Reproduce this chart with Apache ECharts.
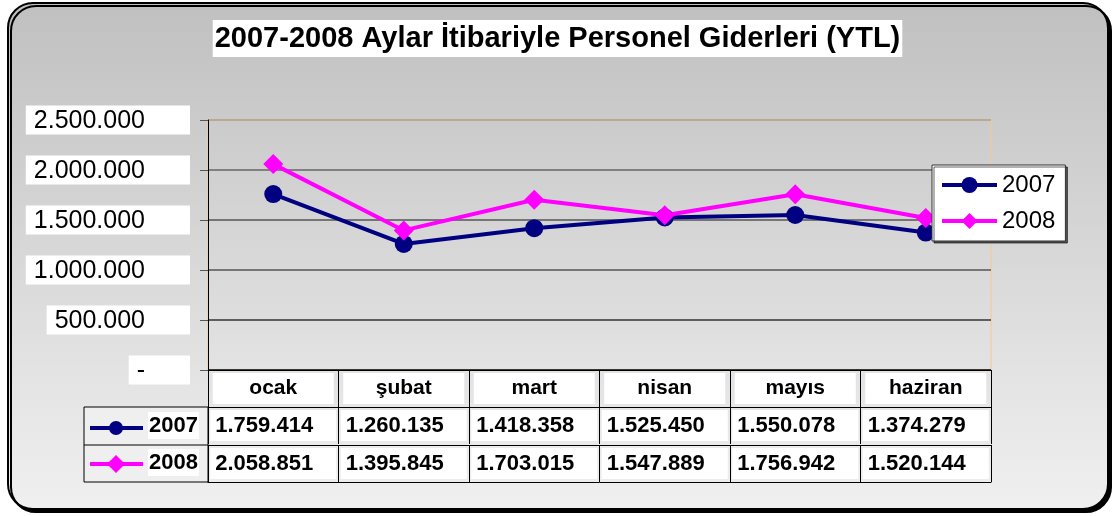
<!DOCTYPE html>
<html>
<head>
<meta charset="utf-8">
<script src="https://cdn.jsdelivr.net/npm/echarts@6/dist/echarts.min.js"></script>
<style>
html, body { margin: 0; padding: 0; background: #fff; }
#chart { width: 1115px; height: 516px; }
</style>
</head>
<body>
<div id="chart"></div>
<script>
var months = ['ocak', 'şubat', 'mart', 'nisan', 'mayıs', 'haziran'];
var data2007 = [1759414, 1260135, 1418358, 1525450, 1550078, 1374279];
var data2008 = [2058851, 1395845, 1703015, 1547889, 1756942, 1520144];
var yTicks = [0, 500000, 1000000, 1500000, 2000000, 2500000];

var FONT = 'Arial, "Liberation Sans", sans-serif';

function fmt(v) {
	if (v === 0) return '-';
	return String(v).replace(/\B(?=(\d{3})+(?!\d))/g, '.');
}

// one table row = one extra category axis under the grid
function rowAxis(data, offset, align, size) {
	return {
		type: 'category',
		gridIndex: 0,
		position: 'bottom',
		offset: offset,
		data: data,
		axisLine: { show: true, lineStyle: { color: '#000', width: 1 } },
		axisTick: { show: true, interval: 0, length: 37, lineStyle: { color: '#000' } },
		axisLabel: {
			interval: 0,
			margin: 3,
			formatter: function (v) { return '{c|' + v + '}'; },
			rich: {
				c: {
					backgroundColor: '#fff', width: 121, height: 31, lineHeight: 31,
					align: align, padding: align === 'left' ? [0, 0, 0, 5] : 0,
					fontFamily: FONT, fontWeight: 'bold', fontSize: size, color: '#000'
				}
			}
		}
	};
}

var option = {
	animation: false,
	textStyle: { fontFamily: FONT },
	title: {
		text: '2007-2008 Aylar İtibariyle Personel Giderleri (YTL)',
		left: 'center',
		top: 20,
		backgroundColor: '#fff',
		padding: [4, 2, 3, 2],
		textStyle: { fontFamily: FONT, fontWeight: 'bold', fontSize: 29, lineHeight: 30, color: '#000' }
	},
	legend: {
		orient: 'vertical',
		left: 932,
		top: 165,
		padding: [8, 10, 8, 8],
		itemGap: 12,
		itemWidth: 55,
		itemHeight: 20,
		backgroundColor: '#fff',
		borderColor: '#333',
		borderWidth: 1,
		shadowColor: 'rgba(0,0,0,0.6)',
		shadowOffsetX: 2,
		shadowOffsetY: 2,
		lineStyle: { width: 4 },
		textStyle: { fontFamily: FONT, fontSize: 24, color: '#000' },
		data: ['2007', '2008']
	},
	grid: {
		left: 208, right: 124, top: 120, bottom: 146,
		show: true, borderColor: '#f5c898', borderWidth: 1,
		backgroundColor: 'transparent'
	},
	xAxis: [
		rowAxis(months, 0, 'center', 21),
		rowAxis(data2007.map(fmt), 37, 'left', 22),
		rowAxis(data2008.map(fmt), 75, 'left', 22),
		{
			type: 'category', gridIndex: 0, position: 'bottom', offset: 112,
			data: months,
			axisLine: { show: true, lineStyle: { color: '#000' } },
			axisTick: { show: false }, axisLabel: { show: false }
		}
	],
	yAxis: {
		type: 'value',
		min: 0, max: 2500000, interval: 500000,
		axisLine: { show: true, lineStyle: { color: '#000' } },
		axisTick: { show: true, length: 8, lineStyle: { color: '#555' } },
		splitLine: {
			show: true,
			lineStyle: { color: ['#000', '#333', '#555', '#555', '#666', '#b09c84'], width: 1.5 }
		},
		axisLabel: {
			margin: 18,
			formatter: function (v) { return '{y|' + fmt(v) + '}'; },
			rich: {
				y: {
					backgroundColor: '#fff', padding: [3, 45, 1, 8],
					fontFamily: FONT, fontSize: 25, color: '#000', lineHeight: 23
				}
			}
		}
	},
	series: [
		{
			name: '2007', type: 'line', xAxisIndex: 0,
			data: data2007,
			symbol: 'circle', symbolSize: 18,
			lineStyle: { color: '#000080', width: 4 },
			itemStyle: { color: '#000080' }
		},
		{
			name: '2008', type: 'line', xAxisIndex: 0,
			data: data2008,
			symbol: 'diamond', symbolSize: 20,
			lineStyle: { color: '#ff00ff', width: 4 },
			itemStyle: { color: '#ff00ff' }
		}
	],
	graphic: [
		{
			type: 'rect', z: -100,
			shape: { x: 8, y: 3, width: 1100, height: 506, r: 25 },
			style: {
				fill: new echarts.graphic.LinearGradient(0, 0, 0, 1, [
					{ offset: 0, color: '#c0c0c0' },
					{ offset: 1, color: '#f0f0f0' }
				]),
				stroke: '#000', lineWidth: 2,
				shadowColor: '#000', shadowOffsetX: 3, shadowOffsetY: 3
			}
		},
		// legend keys column of the data table
		{ type: 'rect', z: 10, shape: { x: 84, y: 407, width: 124, height: 75 }, style: { fill: '#efefef', stroke: '#000', lineWidth: 1 } },
		{ type: 'line', z: 10, shape: { x1: 84, y1: 445, x2: 208, y2: 445 }, style: { stroke: '#000', lineWidth: 1 } },
		{ type: 'line', z: 11, shape: { x1: 90, y1: 428, x2: 143, y2: 428 }, style: { stroke: '#000080', lineWidth: 4 } },
		{ type: 'circle', z: 12, shape: { cx: 116, cy: 428, r: 7 }, style: { fill: '#000080' } },
		{ type: 'line', z: 11, shape: { x1: 90, y1: 464, x2: 143, y2: 464 }, style: { stroke: '#ff00ff', lineWidth: 4 } },
		{ type: 'polygon', z: 12, shape: { points: [[116, 455], [125, 464], [116, 473], [107, 464]] }, style: { fill: '#ff00ff' } },
		{ type: 'text', z: 12, left: 148, top: 412, style: { text: '2007', fill: '#000', backgroundColor: '#fff', font: 'bold 22px ' + FONT, padding: [3, 1, 2, 1] } },
		{ type: 'text', z: 12, left: 148, top: 449, style: { text: '2008', fill: '#000', backgroundColor: '#fff', font: 'bold 22px ' + FONT, padding: [3, 1, 2, 1] } }
	]
};

var myChart = echarts.init(document.getElementById('chart'));
myChart.setOption(option);
</script>
</body>
</html>
